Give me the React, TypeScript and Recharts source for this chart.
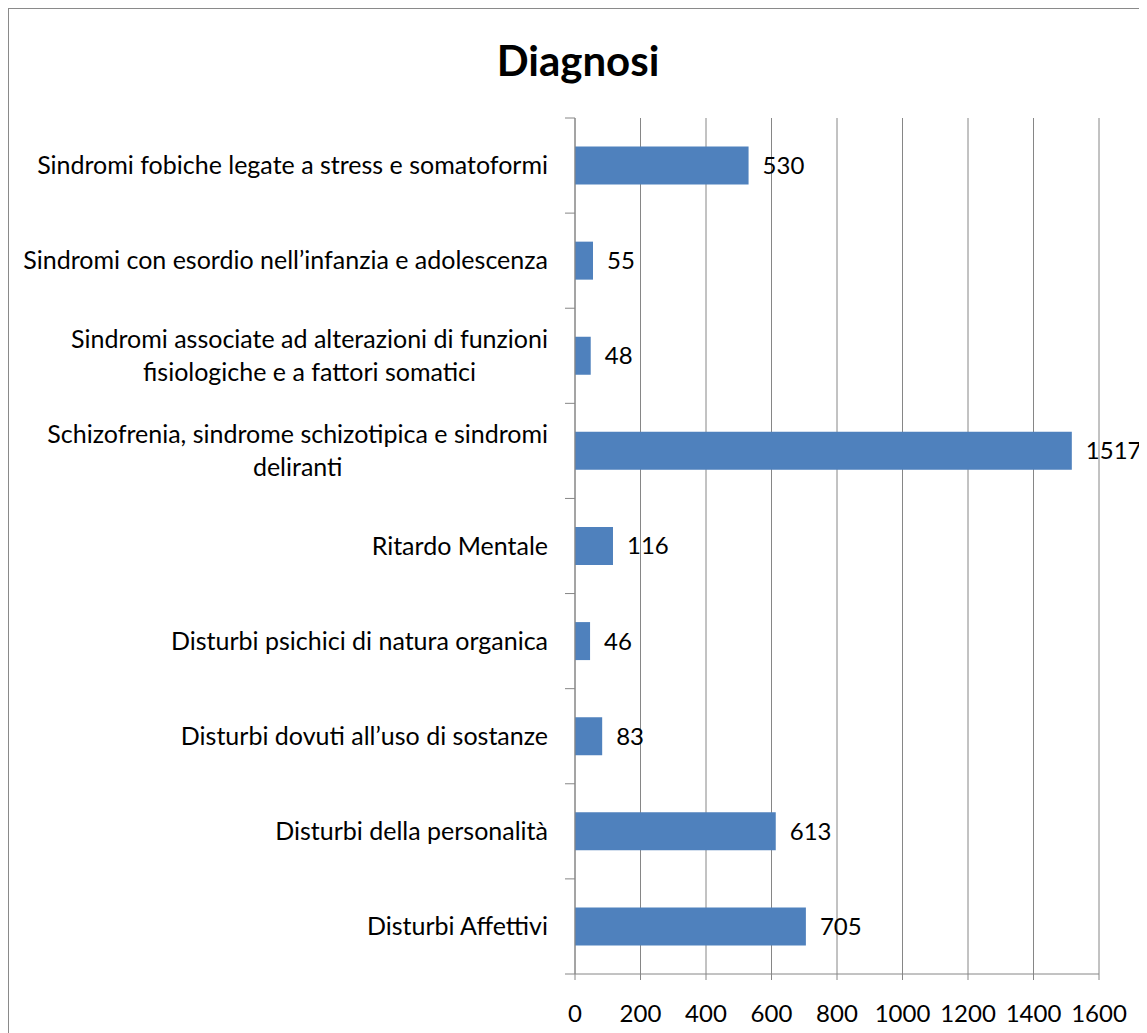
import React from "react";
import { BarChart, Bar, XAxis, YAxis, CartesianGrid, LabelList } from "recharts";

const categories = [
  "Sindromi fobiche legate a stress e somatoformi",
  "Sindromi con esordio nell’infanzia e adolescenza",
  "Sindromi associate ad alterazioni di funzioni\nfisiologiche e a fattori somatici",
  "Schizofrenia, sindrome schizotipica e sindromi\ndeliranti",
  "Ritardo Mentale",
  "Disturbi psichici di natura organica",
  "Disturbi dovuti all’uso di sostanze",
  "Disturbi della personalità",
  "Disturbi Affettivi",
];
const values = [530, 55, 48, 1517, 116, 46, 83, 613, 705];
const xTicks = [0, 200, 400, 600, 800, 1000, 1200, 1400, 1600];

const data = categories.map((c, i) => ({ name: c, value: values[i] }));

const FONT = "Lato, 'Open Sans', sans-serif";
const LABEL_SIZE = 25;
const GRAY = "#868686";

let ctx: CanvasRenderingContext2D | null = null;
function measure(text: string): number {
  if (!ctx) {
    const c = document.createElement("canvas");
    ctx = c.getContext("2d");
  }
  if (!ctx) return text.length * LABEL_SIZE * 0.5;
  ctx.font = `${LABEL_SIZE}px Lato`;
  return ctx.measureText(text).width;
}

const CategoryTick = (props: any) => {
  const { x, y, payload, height, visibleTicksCount, index } = props;
  const lines = String(payload.value).split("\n");
  const widest = Math.max(...lines.map(measure));
  const right = x - 27;
  const lh = 33;
  const startY = y - ((lines.length - 1) * lh) / 2;
  const count = visibleTicksCount || categories.length;
  const half = typeof height === "number" && height > 0 ? height / count / 2 : null;
  return (
    <g>
      {half !== null && (
        <line x1={x - 10} x2={x} y1={y - half} y2={y - half} stroke={GRAY} strokeWidth={1} />
      )}
      {half !== null && index === count - 1 && (
        <line x1={x - 10} x2={x} y1={y + half} y2={y + half} stroke={GRAY} strokeWidth={1} />
      )}
      {lines.map((l, i) => (
        <text
          key={i}
          x={lines.length > 1 ? right - widest / 2 : right}
          y={startY + i * lh}
          dy="0.35em"
          textAnchor={lines.length > 1 ? "middle" : "end"}
          fontFamily={FONT}
          fontSize={LABEL_SIZE}
          fill="#000"
        >
          {l}
        </text>
      ))}
    </g>
  );
};

export default function App() {
  return (
    <div
      style={{
        position: "relative",
        width: 1138,
        height: 1024,
        borderLeft: "1px solid #8a8a8a",
        borderTop: "1px solid #8a8a8a",
        background: "#fff",
        overflow: "hidden",
      }}
    >
      <div
        style={{
          position: "absolute",
          top: 28,
          left: 0,
          width: 1138,
          textAlign: "center",
          fontFamily: FONT,
          fontWeight: 700,
          fontSize: 42,
          lineHeight: "46px",
          color: "#000",
        }}
      >
        Diagnosi
      </div>
      <BarChart
        width={1138}
        height={1024}
        data={data}
        layout="vertical"
        margin={{ top: 109, right: 48, bottom: 0, left: 0 }}
        barCategoryGap="30%"
      >
        <CartesianGrid horizontal={false} stroke={GRAY} strokeWidth={1} />
        <XAxis
          type="number"
          domain={[0, 1600]}
          ticks={xTicks}
          interval={0}
          height={59}
          tickSize={6}
          tickMargin={25}
          axisLine={{ stroke: GRAY }}
          tickLine={{ stroke: GRAY }}
          tick={{ fill: "#000", fontFamily: FONT, fontSize: 24 }}
        />
        <YAxis
          type="category"
          dataKey="name"
          width={566}
          interval={0}
          axisLine={{ stroke: GRAY }}
          tickLine={false}
          tickSize={0}
          tickMargin={0}
          tick={<CategoryTick />}
        />
        <Bar dataKey="value" fill="#4F81BD" isAnimationActive={false}>
          <LabelList
            dataKey="value"
            position="right"
            offset={14}
            fill="#000"
            fontFamily={FONT}
            fontSize={24}
          />
        </Bar>
      </BarChart>
    </div>
  );
}
